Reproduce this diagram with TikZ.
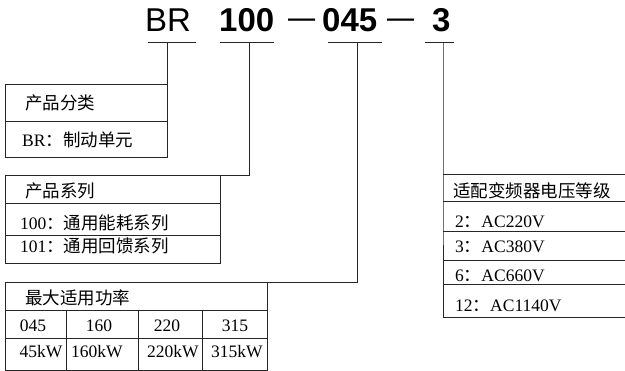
\documentclass[tikz,border=0pt]{standalone}
\usepackage{fontspec}
\setmainfont{Liberation Serif}
\newfontfamily\cjk{Noto Sans CJK SC}
\newfontfamily\headfont{Liberation Sans}
\tikzset{
  cell/.style={anchor=base west,inner sep=0pt,font=\fontsize{17.5}{20}\selectfont},
  num/.style={anchor=base,inner sep=0pt,font=\fontsize{17.5}{20}\selectfont},
  head/.style={anchor=base west,inner sep=0pt,font=\headfont\fontsize{33}{36}\selectfont},
  rule/.style={line width=0.9pt,black!85},
}
\begin{document}
\begin{tikzpicture}[x=1pt,y=-1pt]
\useasboundingbox (0,0) rectangle (625,371);
% model code
\node[head] (br) at (145,32) {BR};
\node[head] (ser) at (219,32) {\bfseries 100};
\node[head] (d1) at (288,32) {\raisebox{3pt}{\scalebox{0.82}[1]{—}}};
\node[head] (pw) at (322,32) {\bfseries 045};
\node[head] (d2) at (387,32) {\raisebox{3pt}{\scalebox{0.82}[1]{—}}};
\node[head] (vo) at (432,32) {\bfseries 3};
\coordinate (u1) at (167,42);
\coordinate (u2) at (249,42);
\coordinate (u3) at (357,42);
\coordinate (u4) at (443,42);
\draw[rule] (148,42) -- (196,42) (220,42) -- (274,42)
  (328,42) -- (382,42) (425,42) -- (454,42);

% product class
\draw[rule] (5,84) rectangle (167,157) (5,121) -- (167,121);
\coordinate (c1) at (167,84);
\draw[rule] (u1) -- (c1);
\node[cell] (cls) at (25,110) {\cjk 产品分类};
\node[cell] (clsbr) at (22,147) {BR\cjk：制动单元};

% series
\draw[rule] (5,175) rectangle (220,263) (5,203) -- (220,203) (5,235) -- (220,235);
\coordinate (c2) at (249,175);
\draw[rule] (u2) -- (c2) -- (220,175);
\node[cell] (sr) at (25,198) {\cjk 产品系列};
\node[cell] (sr100) at (20,230) {100\cjk：通用能耗系列};
\node[cell] (sr101) at (20,253) {101\cjk：通用回馈系列};

% power
\draw[rule] (5,282) rectangle (267,370) (5,310) -- (267,310) (5,338) -- (267,338);
\foreach \x in {66,138,202} \draw[rule] (\x,310) -- (\x,370);
\coordinate (c3) at (357,282);
\draw[rule] (u3) -- (c3) -- (267,282);
\node[cell] (pwt) at (25,305) {\cjk 最大适用功率};
\node[num] (p045) at (33,332) {045};
\node[num] (p160) at (99,332) {160};
\node[num] (p220) at (167,332) {220};
\node[num] (p315) at (235,332) {315};
\node[num] (k045) at (41,358) {45kW};
\node[num] (k160) at (97,358) {160kW};
\node[num] (k220) at (173,358) {220kW};
\node[num] (k315) at (237,358) {315kW};

% voltage
\coordinate (c4) at (443,174);
\draw[rule] (u4) -- (c4) -- (443,317);
\foreach \y in {174,201,231,260,284,317} \draw[rule] (443,\y) -- (625,\y);
\node[cell] (vt) at (453,198) {\cjk 适配变频器电压等级};
\node[cell] (v2) at (455,228) {2\cjk：\normalfont AC220V};
\node[cell] (v3) at (455,253) {3\cjk：\normalfont AC380V};
\node[cell] (v6) at (455,282) {6\cjk：\normalfont AC660V};
\node[cell] (v12) at (455,312) {12\cjk：\normalfont AC1140V};
\end{tikzpicture}
\end{document}
